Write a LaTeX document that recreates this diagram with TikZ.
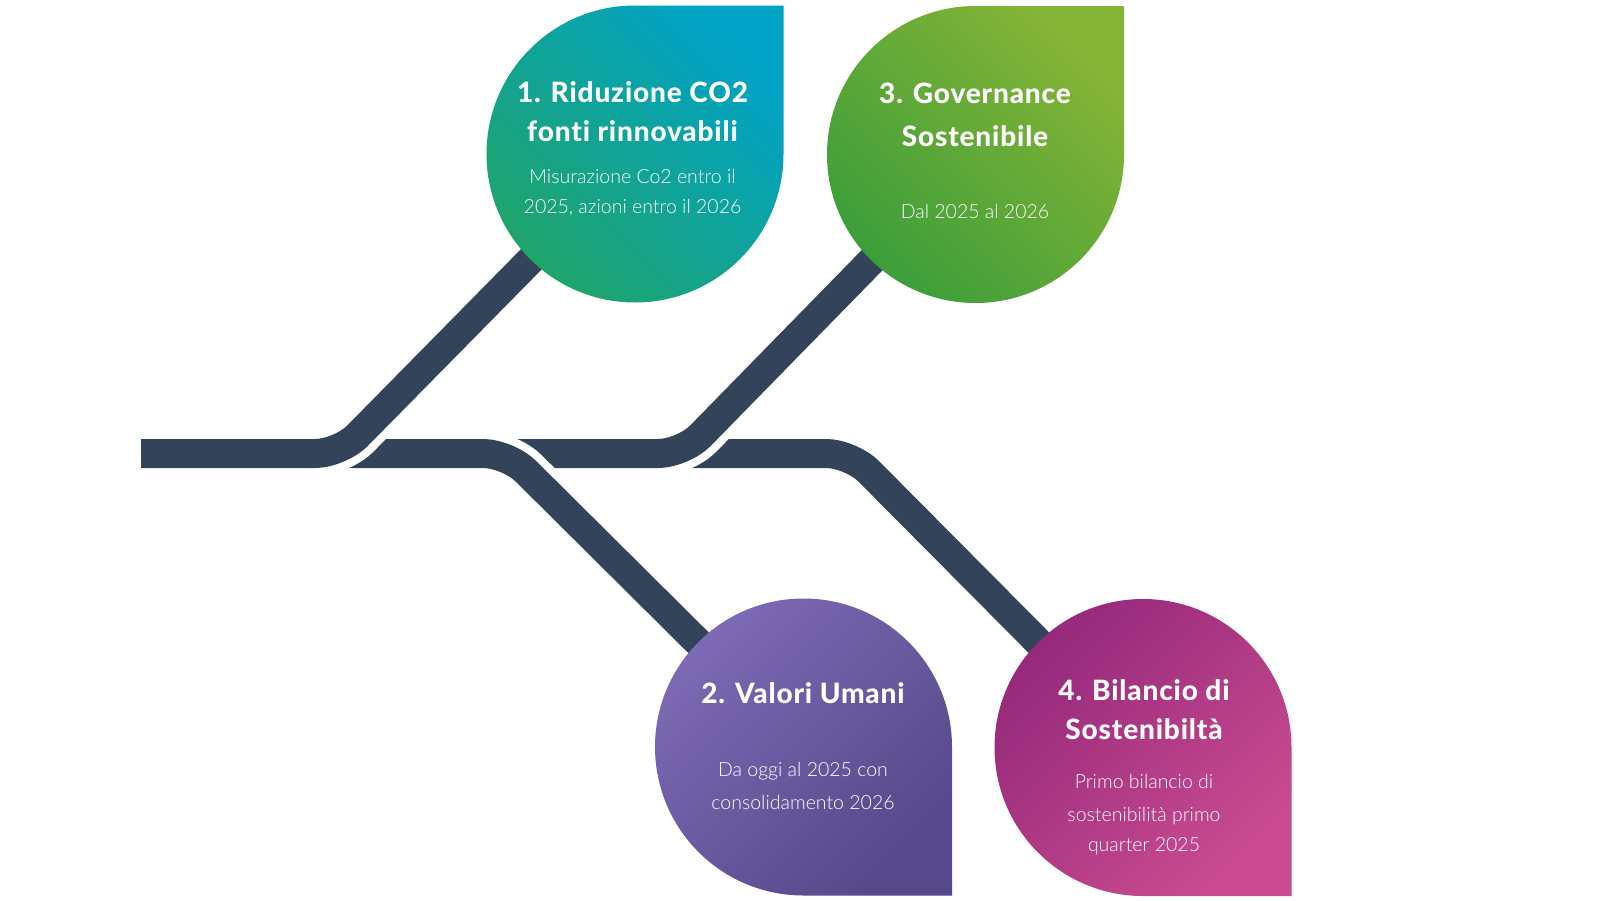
\documentclass[tikz,border=0pt]{standalone}
\usepackage{fontspec}
\setmainfont{Lato}
\newfontfamily\lightfont{Lato Light}
\newfontfamily\heavyfont[Ligatures=NoCommon,LetterSpace=3.0]{Lato Heavy}
\definecolor{linec}{RGB}{51,67,90}
\definecolor{aTop}{RGB}{0,162,198}
\definecolor{aBot}{RGB}{32,164,106}
\definecolor{cTop}{RGB}{134,180,54}
\definecolor{cBot}{RGB}{60,158,58}
\definecolor{bTop}{RGB}{124,106,180}
\definecolor{bBot}{RGB}{86,72,138}
\definecolor{dTop}{RGB}{149,41,123}
\definecolor{dBot}{RGB}{201,75,144}
\tikzset{
  track/.style={line width=29pt, draw=linec, rounded corners=25pt,
    preaction={draw=white, line width=45pt}},
  ttl/.style={text=white, font=\fontsize{28}{30}\selectfont\heavyfont, anchor=base, inner sep=0pt},
  bdy/.style={text=white, font=\fontsize{19.5}{23}\selectfont\lightfont, anchor=base, inner sep=0pt},
}
\begin{document}
\begin{tikzpicture}[x=1pt,y=1pt]
\fill[white] (0,0) rectangle (1600,-900);
\useasboundingbox (0,0) rectangle (1600,-900);
% shape centres
\coordinate (s1) at (635,-154);
\coordinate (s2) at (803.5,-747);
\coordinate (s3) at (975.5,-154.5);
\coordinate (s4) at (1143,-747.5);
% track corners
\coordinate (a0) at (141,-453.5);
\coordinate (a1) at (340,-453.5);
\coordinate (b1) at (508,-453.5);
\coordinate (c1) at (683,-453.5);
\coordinate (d1) at (851,-453.5);
% tracks (back to front)
\draw[track] (c1) -- (d1) -- (s4);
\draw[track] (b1) -- (c1) -- (s3);
\draw[track] (a1) -- (b1) -- (s2);
\draw[track] (a0) -- (a1) -- (s1);
% drop shapes
\shade[top color=aTop, bottom color=aBot, shading angle=-45]
  (s1) ++(148.5,0) -- ++(0,148.5) -- ++(-148.5,0) arc[start angle=90, end angle=360, radius=148.5] -- cycle;
\shade[top color=cTop, bottom color=cBot, shading angle=-45]
  (s3) ++(148.5,0) -- ++(0,148.5) -- ++(-148.5,0) arc[start angle=90, end angle=360, radius=148.5] -- cycle;
\shade[top color=bTop, bottom color=bBot, shading angle=45]
  (s2) ++(148.5,0) -- ++(0,-148.5) -- ++(-148.5,0) arc[start angle=270, end angle=0, radius=148.5] -- cycle;
\shade[top color=dTop, bottom color=dBot, shading angle=45]
  (s4) ++(148.5,0) -- ++(0,-148.5) -- ++(-148.5,0) arc[start angle=270, end angle=0, radius=148.5] -- cycle;
% texts shape 1
\node[ttl] (t1a) at (632.5,-102) {1. Riduzione CO2};
\node[ttl] (t1b) at (632.5,-141.7) {fonti rinnovabili};
\node[bdy] (t1c) at (632.5,-183.3) {Misurazione Co2 entro il};
\node[bdy] (t1d) at (632.5,-213) {2025, azioni entro il 2026};
% texts shape 3
\node[ttl] (t3a) at (975,-103) {3. Governance};
\node[ttl] (t3b) at (975,-146) {Sostenibile};
\node[bdy] (t3c) at (975,-218) {Dal 2025 al 2026};
% texts shape 2
\node[ttl] (t2a) at (803,-703.3) {2. Valori Umani};
\node[bdy] (t2b) at (803,-776.7) {Da oggi al 2025 con};
\node[bdy] (t2c) at (803,-809.3) {consolidamento 2026};
% texts shape 4
\node[ttl] (t4a) at (1144,-700) {4. Bilancio di};
\node[ttl] (t4b) at (1144,-739) {Sostenibiltà};
\node[bdy] (t4c) at (1144,-788.3) {Primo bilancio di};
\node[bdy] (t4d) at (1144,-821.7) {sostenibilità primo};
\node[bdy] (t4e) at (1144,-851.7) {quarter 2025};
\end{tikzpicture}
\end{document}
